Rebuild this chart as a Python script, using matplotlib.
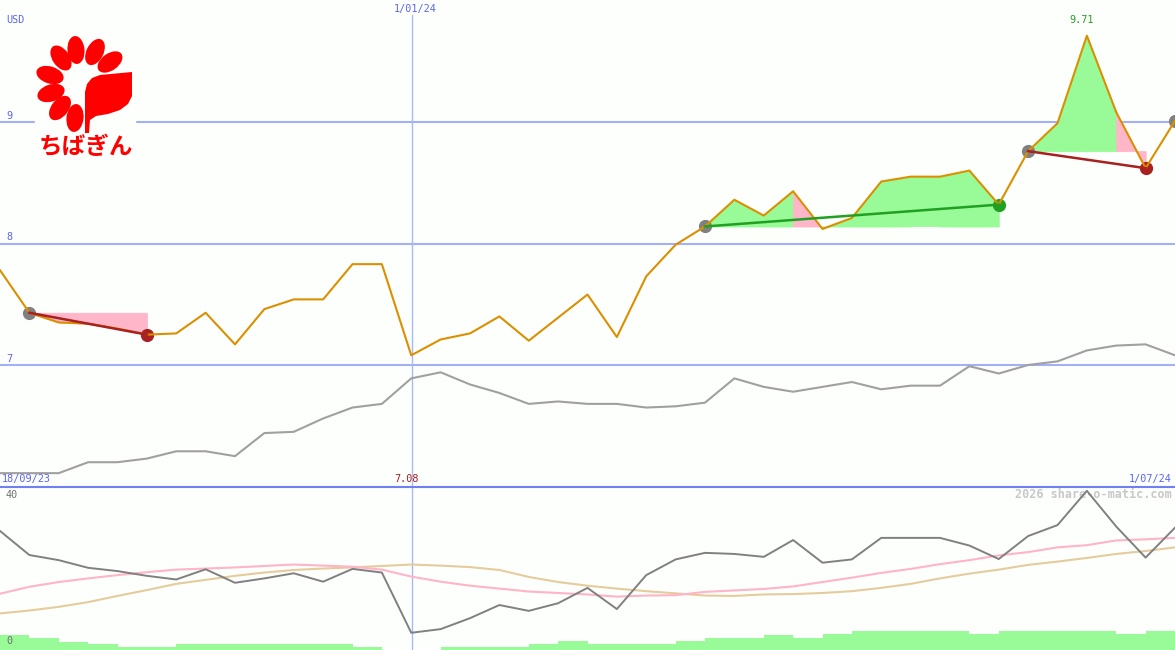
import numpy as np
import matplotlib.pyplot as plt
from matplotlib.patches import Ellipse, Polygon, Rectangle

W, H = 1175, 650

# weekly closes (USD), 18/09/23 .. 1/07/24
price = [7.78, 7.43, 7.35, 7.34, 7.30, 7.25, 7.26, 7.43, 7.17, 7.46,
         7.54, 7.54, 7.83, 7.83, 7.08, 7.21, 7.26, 7.40, 7.20, 7.39,
         7.58, 7.23, 7.73, 7.99, 8.14, 8.36, 8.23, 8.43, 8.12, 8.21,
         8.51, 8.55, 8.55, 8.60, 8.32, 8.76, 8.99, 9.71, 9.08, 8.62, 9.01]

# comparison index drawn under the price line
bench = [6.11, 6.11, 6.11, 6.20, 6.20, 6.23, 6.29, 6.29, 6.25, 6.44,
         6.45, 6.56, 6.65, 6.68, 6.89, 6.94, 6.84, 6.77, 6.68, 6.70,
         6.68, 6.68, 6.65, 6.66, 6.69, 6.89, 6.82, 6.78, 6.82, 6.86,
         6.80, 6.83, 6.83, 6.99, 6.93, 7.00, 7.03, 7.12, 7.16, 7.17, 7.08]

# lower panel, 0..40 scale
osc = [31.8, 25.2, 23.8, 21.7, 20.8, 19.5, 18.5, 21.3, 17.6, 18.8,
       20.2, 17.9, 21.4, 20.4, 3.9, 4.9, 7.9, 11.5, 9.9, 12.0,
       16.2, 10.4, 19.7, 24.0, 25.8, 25.5, 24.7, 29.3, 23.1, 24.0,
       29.9, 29.9, 29.9, 27.8, 24.1, 30.4, 33.4, 42.8, 33.0, 24.5, 32.7]
osc_fast = [14.6, 16.5, 17.8, 18.8, 19.7, 20.5, 21.2, 21.5, 21.8, 22.2,
            22.6, 22.3, 22.0, 21.2, 19.3, 17.9, 16.8, 16.0, 15.2, 14.8,
            14.4, 13.8, 14.1, 14.2, 15.1, 15.5, 15.9, 16.6, 17.8, 19.0,
            20.3, 21.4, 22.7, 23.8, 25.1, 26.0, 27.3, 27.9, 29.2, 29.5, 29.9]
osc_slow = [9.2, 10.0, 11.0, 12.3, 14.0, 15.6, 17.3, 18.4, 19.5, 20.4,
            21.1, 21.5, 21.8, 22.2, 22.6, 22.3, 21.9, 21.1, 19.2, 17.8,
            16.8, 16.0, 15.3, 14.7, 14.1, 14.0, 14.4, 14.5, 14.8, 15.3,
            16.2, 17.3, 18.8, 20.1, 21.2, 22.5, 23.4, 24.4, 25.5, 26.3, 27.3]
volume = [15, 12, 8, 6, 3, 3, 6, 6, 6, 6, 6, 6, 3, 0, 0, 3, 3, 3, 6, 9,
          6, 6, 6, 9, 12, 12, 15, 12, 16, 19, 19, 19, 19, 16, 19, 19, 19, 19, 16, 19]

# (start, end) week indexes of the marked moves
segments = [(1, 5), (24, 34), (35, 39)]
open_start = 40

start_label = '18/09/23'
end_label = '1/07/24'
mid_label = '1/01/24'
mid_pos = 14.04

BG = '#fdfffd'
BLUE = '#5a64f0'
GRID = '#a4b0f4'
ORANGE = '#dc8f00'
GREEN_FILL = '#98fb98'
PINK_FILL = '#ffb6c8'
DRED = '#a82020'
DGREEN = '#22a022'
MONO = 'DejaVu Sans Mono'

x = np.arange(len(price))

fig = plt.figure(figsize=(W / 100, H / 100), dpi=100, facecolor=BG)
ax = fig.add_axes([0, 163 / H, 1, 487 / H])
axv = fig.add_axes([0, 0, 1, 163 / H])
axo = axv.twinx()
top = fig.add_axes([0, 0, 1, 1], zorder=10)
for a in (ax, axv, axo, top):
    a.set_axis_off()

# price panel
ax.set_xlim(0, 40)
ax.set_ylim(5.996, 10.004)
for lv in (7, 8, 9):
    ax.axhline(lv, color=GRID, lw=1.5, zorder=0)
ax.axvline(mid_pos, ymax=1 - 15 / 487, color='#a8b8f8', lw=1, zorder=0)

ax.plot(x, bench, color='#a0a0a0', lw=1.5, zorder=2)

for s, e in segments:
    level = price[s]
    for i in range(s, e):
        c = GREEN_FILL if price[i + 1] >= level else PINK_FILL
        ax.fill_between([i, i + 1], level, [price[i], price[i + 1]],
                        facecolor=c, edgecolor=c, lw=0.6, zorder=1)
    tc = DGREEN if price[e] > level else DRED
    ax.plot([s, e], [level, price[e]], color=tc, lw=1.8, zorder=4)
    ax.plot(s, level, 'o', ms=8.5, color='#808080', zorder=2)
    ax.plot(e, price[e], 'o', ms=8.5, color=tc, zorder=2)
ax.plot(open_start, price[open_start], 'o', ms=8.5, color='#808080', zorder=2)

ax.plot(x, price, color=ORANGE, lw=1.5, zorder=3)

imax = int(np.argmax(price))
imin = int(np.argmin(price))
ax.annotate(f'{price[imax]:.2f}', (imax, price[imax]), xytext=(-4, 11.5),
            textcoords='offset points', ha='center', va='center',
            color=DGREEN, fontsize=7.3, family=MONO)

# lower panel
axv.set_xlim(0, 40)
axv.set_ylim(0, 163)
axv.bar(np.arange(len(volume)), volume, width=1, align='edge',
        color=GREEN_FILL, lw=0)
axv.axvline(mid_pos, color='#a8b8f8', lw=1)
axv.text(1172 / W, 0.951, '2026 share-o-matic.com', transform=axv.transAxes,
         ha='right', va='center', fontsize=8.5, fontweight='bold',
         color='#c8c8c8', family=MONO)

axo.set_xlim(0, 40)
axo.set_ylim(-0.82, 43.84)
axo.plot(x, osc_slow, color='#e4cc9c', lw=1.5)
axo.plot(x, osc_fast, color='#ffb4c8', lw=1.5)
axo.plot(x, osc, color='#808080', lw=1.4)

# overlay in pixel coordinates
top.set_xlim(0, W)
top.set_ylim(H, 0)
top.axhline(487, color='#7080f0', lw=1.5)

txt = dict(family=MONO, fontsize=7.3, va='center')
top.text(6, 20, 'USD', color=BLUE, **txt)
for lv in (7, 8, 9):
    top.text(6, 122 - (lv - 9) * 121.5 - 6, str(lv), color=BLUE, **txt)
top.text(2, 479, start_label, color=BLUE, **txt)
top.text(1172, 479, end_label, color=BLUE, ha='right', **txt)
top.text(415, 9, mid_label, color=BLUE, ha='center', **txt)
top.text(imin * W / 40 - 5, 479, f'{price[imin]:.2f}', color=DRED, ha='center', **txt)
top.text(6, 495, '40', color='#707070', **txt)
top.text(6, 641, '0', color='#707070', **txt)

# logo
top.add_patch(Rectangle((35, 30), 100, 132, color=BG, zorder=0))
cx, cy = 79, 84
petals = [(76, 50), (95, 52), (110, 62), (61, 58), (50, 75),
          (51, 93), (60, 108), (75, 118)]
for px, py in petals:
    ang = np.degrees(np.arctan2(py - cy, px - cx))
    top.add_patch(Ellipse((px, py), 28, 17, angle=ang, color='#ff0000', lw=0))
leaf = [(85, 133), (85, 92), (87, 84), (92, 78), (100, 75), (132, 72),
        (132, 96), (128, 104), (120, 110), (108, 114), (96, 116), (90, 120),
        (89, 133)]
top.add_patch(Polygon(leaf, closed=True, color='#ff0000', lw=0))
top.text(85.5, 147, 'ちばぎん', family=['Noto Sans CJK JP', 'DejaVu Sans'],
         fontsize=17, fontweight='bold', color='#ff0000', ha='center', va='center')

fig.savefig('out.png', dpi=100, facecolor=BG)
